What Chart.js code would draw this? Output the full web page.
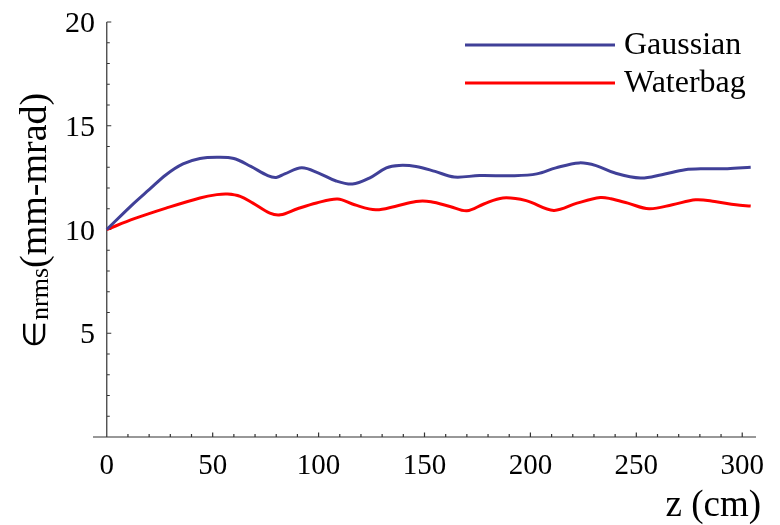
<!DOCTYPE html>
<html>
<head>
<meta charset="utf-8">
<script src="https://cdn.jsdelivr.net/npm/chart.js@4"></script>
<style>
  body { margin: 0; background: #fff; }
  canvas { display: block; }
</style>
</head>
<body>
<canvas id="chart" width="780" height="525"></canvas>
<script>
// emittance growth along z for the two beam distributions
var gaussianZ = [0, 12, 20, 28, 36, 44, 52, 60, 68, 76, 80, 84, 92, 100, 108, 116, 124, 132, 138, 146,
  155, 164, 176, 192, 203, 212, 223, 231, 240, 252, 262, 273, 282, 293, 304]
var gaussianEmit = [10.0, 11.19, 11.92, 12.64, 13.16, 13.42, 13.48, 13.42, 13.04, 12.6, 12.51, 12.68, 12.97, 12.72, 12.35, 12.19, 12.48, 12.97, 13.09, 13.04,
  12.8, 12.53, 12.6, 12.59, 12.68, 12.97, 13.21, 13.08, 12.72, 12.48, 12.64, 12.88, 12.93, 12.93, 13.0]

var waterbagZ = [0, 13, 28, 44, 52, 57, 63, 69, 77, 82, 90, 99, 109, 117, 127, 136, 146, 153, 162, 170,
  178, 187, 198, 211, 222, 233, 238, 246, 256, 267, 278, 287, 297, 304]
var waterbagEmit = [10.0, 10.52, 11.03, 11.52, 11.68, 11.71, 11.6, 11.27, 10.79, 10.71, 11.0, 11.28, 11.47, 11.19, 10.95, 11.11, 11.35, 11.34, 11.11, 10.9,
  11.23, 11.52, 11.39, 10.92, 11.27, 11.54, 11.48, 11.27, 11.0, 11.19, 11.43, 11.35, 11.19, 11.13]

var xTicks = [0, 50, 100, 150, 200, 250, 300]
var yTicks = [5, 10, 15, 20]

var seriesNames = ['Gaussian', 'Waterbag']
var seriesColors = ['rgb(64,64,152)', 'rgb(255,0,0)']

function toPoints(xs, ys) {
  var pts = []
  for (var i = 0; i < xs.length; i++) pts.push({ x: xs[i], y: ys[i] })
  return pts
}

var serif = '"Liberation Serif", serif'

// axes drawn through the origin, Mathematica style
var axesPlugin = {
  id: 'axes',
  beforeDatasetsDraw: function (chart) {
    var ctx = chart.ctx
    var xs = chart.scales.x
    var ys = chart.scales.y
    var x0 = xs.getPixelForValue(0)
    var y0 = ys.getPixelForValue(0)
    ctx.save()
    ctx.strokeStyle = '#333'
    ctx.lineWidth = 1.2
    ctx.beginPath()
    ctx.moveTo(xs.left, y0)
    ctx.lineTo(xs.right, y0)
    ctx.moveTo(x0, y0)
    ctx.lineTo(x0, ys.getPixelForValue(20))
    // x ticks
    for (var v = 0; v <= 300; v += 10) {
      var px = xs.getPixelForValue(v)
      var len = v % 50 === 0 ? 4.5 : 3
      ctx.moveTo(px, y0)
      ctx.lineTo(px, y0 - len)
    }
    // y ticks
    for (var w = 1; w <= 20; w++) {
      var py = ys.getPixelForValue(w)
      var l2 = w % 5 === 0 ? 4.5 : 3
      ctx.moveTo(x0, py)
      ctx.lineTo(x0 + l2, py)
    }
    ctx.stroke()

    ctx.fillStyle = '#000'
    ctx.font = '29px ' + serif
    ctx.textAlign = 'center'
    ctx.textBaseline = 'alphabetic'
    xTicks.forEach(function (t) {
      ctx.fillText(String(t), xs.getPixelForValue(t), 474)
    })
    ctx.font = '30px ' + serif
    ctx.textAlign = 'right'
    ctx.textBaseline = 'alphabetic'
    yTicks.forEach(function (t) {
      ctx.fillText(String(t), 95, ys.getPixelForValue(t) + 10)
    })
    ctx.restore()
  },
  afterDraw: function (chart) {
    var ctx = chart.ctx
    ctx.save()
    ctx.fillStyle = '#000'

    // x axis title
    ctx.font = '37px ' + serif
    ctx.textAlign = 'right'
    ctx.textBaseline = 'alphabetic'
    ctx.fillText('z (cm)', 761, 516)

    // y axis title, rotated
    ctx.translate(46, 348)
    ctx.rotate(-Math.PI / 2)
    ctx.textAlign = 'left'
    var cx = 0
    ctx.font = '31px ' + serif
    ctx.fillText('\u2208', cx, -1)
    cx += ctx.measureText('\u2208').width + 1
    ctx.font = '26px ' + serif
    ctx.fillText('nrms', cx, 2)
    cx += ctx.measureText('nrms').width
    ctx.font = '38px ' + serif
    ctx.fillText('(mm-mrad)', cx, 0)
    ctx.restore()

    // legend
    ctx.save()
    ctx.lineWidth = 3
    ctx.font = '32px ' + serif
    ctx.textAlign = 'left'
    ctx.textBaseline = 'alphabetic'
    var rows = [45, 83]
    for (var i = 0; i < seriesNames.length; i++) {
      ctx.strokeStyle = seriesColors[i]
      ctx.beginPath()
      ctx.moveTo(465, rows[i])
      ctx.lineTo(615, rows[i])
      ctx.stroke()
      ctx.fillStyle = '#000'
      ctx.fillText(seriesNames[i], 624, rows[i] + 9)
    }
    ctx.restore()
  }
}

function build() {
  var ctx = document.getElementById('chart').getContext('2d')
  new Chart(ctx, {
    type: 'line',
    data: {
      datasets: [{
        label: seriesNames[0],
        data: toPoints(gaussianZ, gaussianEmit),
        borderColor: seriesColors[0],
        borderWidth: 3
      }, {
        label: seriesNames[1],
        data: toPoints(waterbagZ, waterbagEmit),
        borderColor: seriesColors[1],
        borderWidth: 3
      }]
    },
    options: {
      animation: false,
      responsive: false,
      devicePixelRatio: 1,
      layout: { padding: { left: 93, right: 24, top: 22, bottom: 88 } },
      elements: {
        point: { radius: 0 },
        line: { tension: 0.35, fill: false }
      },
      plugins: {
        legend: { display: false },
        tooltip: { enabled: false }
      },
      scales: {
        x: { type: 'linear', min: -6.5, max: 306.5, display: false },
        y: { type: 'linear', min: 0, max: 20, display: false }
      }
    },
    plugins: [axesPlugin]
  })
}

// make sure the serif face is ready before anything is drawn
document.fonts.load('30px "Liberation Serif"').then(build, build)
</script>
</body>
</html>
